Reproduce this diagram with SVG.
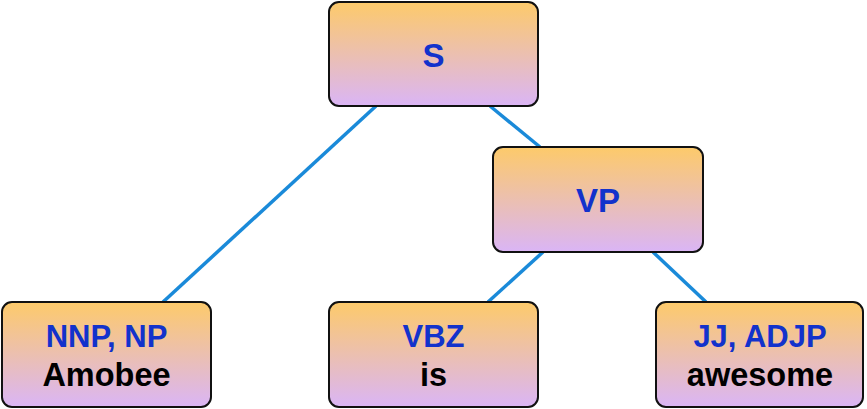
<svg xmlns="http://www.w3.org/2000/svg" width="867" height="409" viewBox="0 0 867 409">
<defs>
<linearGradient id="g" x1="0" y1="0" x2="0" y2="1">
<stop offset="0" stop-color="#fdca6a"/>
<stop offset="1" stop-color="#dab5f6"/>
</linearGradient>
<style>
.box{fill:url(#g);stroke:#111;stroke-width:2}
.lbl{font-family:"Liberation Sans",Arial,sans-serif;font-weight:bold;font-size:31px;text-anchor:middle;fill:#1232cc}
.big{font-size:33px}
.word{font-family:"Liberation Sans",Arial,sans-serif;font-weight:bold;font-size:32.5px;text-anchor:middle;fill:#000}
.edge{stroke:#1a8ad9;stroke-width:3.5;fill:none}
</style>
</defs>
<g id="connectors">
<line class="edge" x1="376" y1="106" x2="163" y2="302"/>
<line class="edge" x1="490" y1="106" x2="540" y2="147"/>
<line class="edge" x1="543" y1="252" x2="488" y2="302"/>
<line class="edge" x1="653" y1="252" x2="706" y2="302"/>
</g>
<g id="S">
<rect class="box" x="329" y="2" width="209" height="104" rx="10"/>
<text class="lbl big" x="433.5" y="67">S</text>
</g>
<g id="VP">
<rect class="box" x="493" y="147" width="210" height="105" rx="10"/>
<text class="lbl big" x="598" y="212">VP</text>
</g>
<g id="NNP">
<rect class="box" x="2" y="302" width="209" height="105" rx="10"/>
<text class="lbl" x="106.5" y="347">NNP, NP</text>
<text class="word" x="106.5" y="386">Amobee</text>
</g>
<g id="VBZ">
<rect class="box" x="329" y="302" width="209" height="105" rx="10"/>
<text class="lbl" x="433.5" y="347">VBZ</text>
<text class="word" x="433.5" y="386">is</text>
</g>
<g id="JJ">
<rect class="box" x="656" y="302" width="207" height="105" rx="10"/>
<text class="lbl" x="760" y="347">JJ, ADJP</text>
<text class="word" x="760" y="386">awesome</text>
</g>
</svg>
